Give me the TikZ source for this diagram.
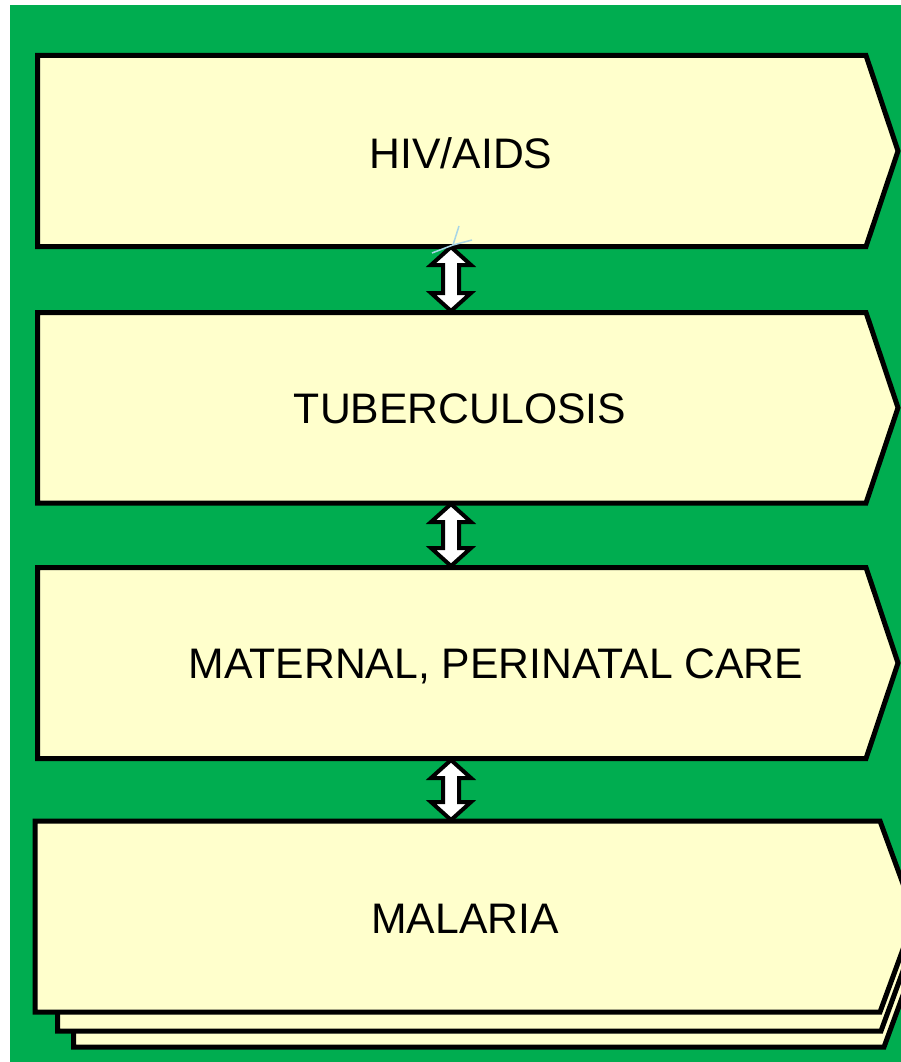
\documentclass[tikz,border=0pt]{standalone}
\usepackage{fontspec}
\setmainfont{Liberation Sans}
\usetikzlibrary{calc}
\definecolor{bggreen}{RGB}{0,173,80}
\definecolor{paleyellow}{RGB}{255,255,204}
\definecolor{tickblue}{RGB}{168,214,230}
\tikzset{
  boxshape/.style={draw=black, fill=paleyellow, line width=5pt, line join=miter},
  label/.style={anchor=base, inner sep=0pt, font=\fontsize{42.7}{50}\selectfont},
  dblarrow/.style={draw=black, fill=white, line width=4pt, line join=miter},
}
% box: #1 left, #2 top, #3 bottom, #4 corner x, #5 tip x
\newcommand{\chevbox}[5]{%
  \draw[boxshape] (#1,#2) -- (#4,#2) -- (#5,{(#2+#3)/2}) -- (#4,#3) -- (#1,#3) -- cycle;}
\newcommand{\twoheaded}[2]{%
  \draw[dblarrow] let \p1=(#1), \p2=(#2) in
    (\x1,\y1) -- (\x1+20pt,\y1-18pt) -- (\x1+8pt,\y1-18pt) -- (\x1+8pt,\y2+18pt)
    -- (\x1+20pt,\y2+18pt) -- (\x1,\y2) -- (\x1-20pt,\y2+18pt) -- (\x1-8pt,\y2+18pt)
    -- (\x1-8pt,\y1-18pt) -- (\x1-20pt,\y1-18pt) -- cycle;}
\begin{document}
\begin{tikzpicture}[x=1pt,y=-1pt]
\useasboundingbox (0,0) rectangle (901,1062);
\fill[white] (0,0) rectangle (901,1062);
\fill[bggreen] (10,5) rectangle (901,1062);
\begin{scope}
\clip (0,0) rectangle (901,1062);
% boxes
\chevbox{37.5}{55.5}{246.5}{866}{898}
\chevbox{37.5}{312.5}{503}{866}{898}
\chevbox{37.5}{567.5}{758.5}{866}{898}
% stacked malaria pages
\chevbox{73.5}{856}{1047}{884}{919}
\chevbox{57.5}{840}{1031}{881}{916}
\chevbox{35}{821}{1012}{880}{915}
\end{scope}
% connector anchors
\coordinate (b1bot) at (451,247);
\coordinate (b2top) at (451,311);
\coordinate (b2bot) at (451,504);
\coordinate (b3top) at (451,566);
\coordinate (b3bot) at (451,760);
\coordinate (b4top) at (451,820);
% labels
\node[label] (t1) at (461,168) {HIV/AIDS};
\node[label] (t2) at (460,423) {TUBERCULOSIS};
\node[label] (t3) at (496,678) {MATERNAL, PERINATAL CARE};
\node[label] (t4) at (465,933) {MALARIA};
% double arrows
\twoheaded{b1bot}{b2top}
\twoheaded{b2bot}{b3top}
\twoheaded{b3bot}{b4top}
% small light-blue tick mark
\coordinate (tk) at (453,245);
\draw[tickblue, line width=1.5pt] (tk) -- (432,253);
\draw[tickblue, line width=1.5pt] (tk) -- (459,226);
\draw[tickblue, line width=1.5pt] (tk) -- (472,240);
\end{tikzpicture}
\end{document}
